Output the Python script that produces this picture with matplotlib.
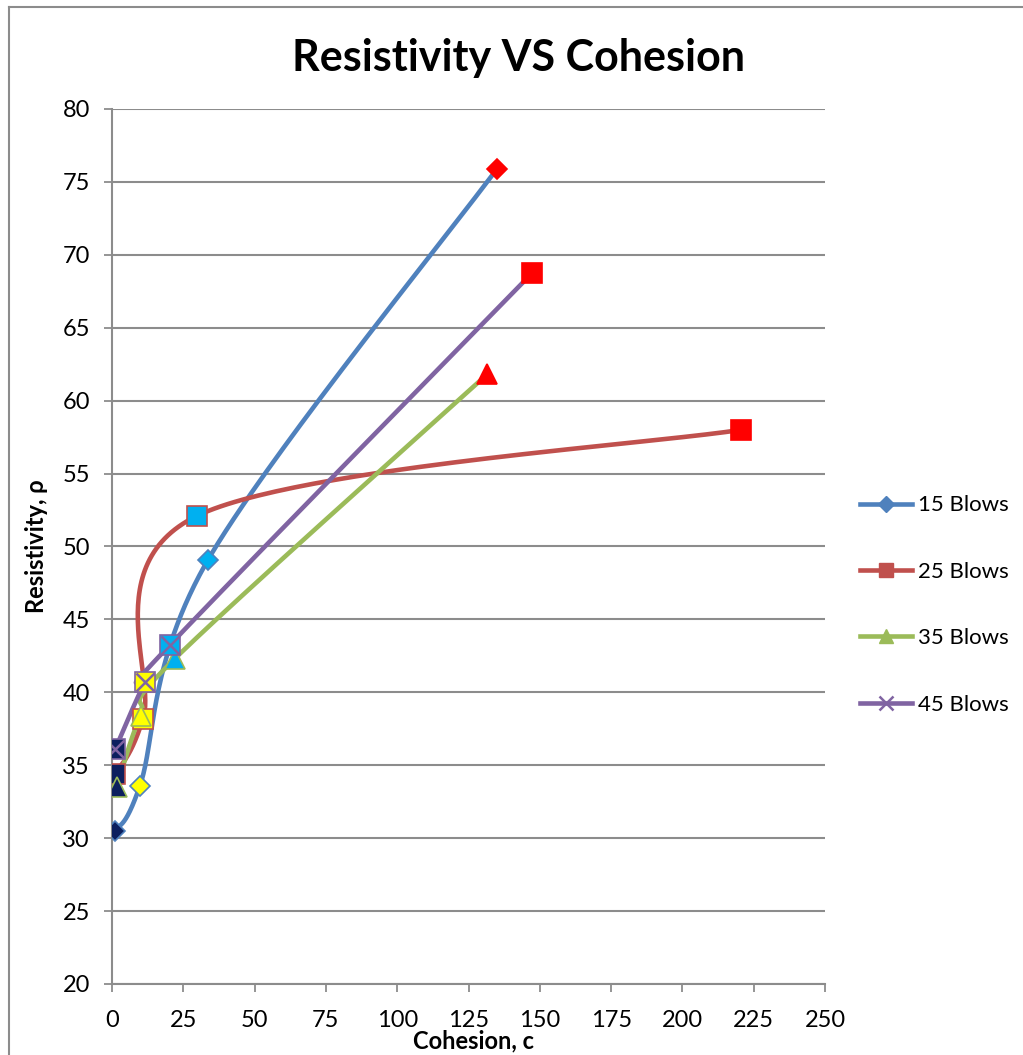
import numpy as np
import matplotlib.pyplot as plt
from matplotlib.lines import Line2D

# data (cohesion c, resistivity rho)
c15 = [1.0, 9.8, 33.7, 135.0]
r15 = [30.5, 33.6, 49.1, 75.9]
c25 = [1.0, 10.9, 29.8, 220.5]
r25 = [34.4, 38.2, 52.1, 58.0]
c35 = [1.6, 10.0, 22.0, 131.5]
r35 = [33.5, 38.4, 42.3, 61.8]
c45 = [1.1, 11.6, 20.3, 147.3]
r45 = [36.1, 40.7, 43.25, 68.75]

labels = ["15 Blows", "25 Blows", "35 Blows", "45 Blows"]
line_colors = ["#4F81BD", "#C0504D", "#9BBB59", "#8064A2"]
point_fills = ["#0C1F5E", "#FFFF00", "#00B0F0", "#FF0000"]

plt.rcParams['font.family'] = ['Lato', 'DejaVu Sans']

fig = plt.figure(figsize=(10.23, 10.55), dpi=100)
ax = fig.add_axes([112/1023, 71/1055, 713/1023, 875/1055])
ax.set_xlim(0, 250)
ax.set_ylim(20, 80)


def smooth(ax, xs, ys, n=60):
    # excel style smoothed line: bezier segments with 1/6 tangents, in pixel space
    pts = ax.transData.transform(np.column_stack([xs, ys]))
    out = []
    for i in range(len(pts) - 1):
        p0 = pts[max(i - 1, 0)]
        p1 = pts[i]
        p2 = pts[i + 1]
        p3 = pts[min(i + 2, len(pts) - 1)]
        b1 = p1 + (p2 - p0) / 6
        b2 = p2 - (p3 - p1) / 6
        t = np.linspace(0, 1, n)[:, None]
        seg = ((1 - t) ** 3 * p1 + 3 * (1 - t) ** 2 * t * b1
               + 3 * (1 - t) * t ** 2 * b2 + t ** 3 * p2)
        out.append(seg)
    out = np.vstack(out)
    return ax.transData.inverted().transform(out).T


series = [(c15, r15, 'D', 10.2), (c25, r25, 's', 14.5),
          (c35, r35, '^', 15), (c45, r45, 's', 14.5)]

for k, (xs, ys, mk, ms) in enumerate(series):
    col = line_colors[k]
    sx, sy = smooth(ax, xs, ys)
    ax.plot(sx, sy, color=col, lw=3.3, solid_capstyle='round', zorder=3)
    for j in range(len(xs)):
        edge = col if j < 3 else "#FF0000"
        ax.plot(xs[j], ys[j], marker=mk, ms=ms, mfc=point_fills[j],
                mec=edge, mew=1.2, ls='none', zorder=4 + k)
        if k == 3 and j < 3:
            ax.plot(xs[j], ys[j], marker='x', ms=13, mec=col, mew=1.8,
                    ls='none', zorder=8)

# gridlines and axes
ax.set_yticks(np.arange(20, 81, 5))
ax.set_xticks(np.arange(0, 251, 25))
ax.yaxis.grid(True, color='#8C8C8C', lw=1.5)
ax.set_axisbelow(True)
for s in ['top', 'right']:
    ax.spines[s].set_visible(False)
for s in ['left', 'bottom']:
    ax.spines[s].set_color('#8C8C8C')
    ax.spines[s].set_linewidth(1.5)
ax.tick_params(axis='both', colors='#8C8C8C', length=6, width=1.3,
               labelsize=17, labelcolor='black')
ax.tick_params(axis='y', pad=10)
ax.tick_params(axis='x', pad=13)

ax.set_xlabel("Cohesion, c", fontsize=17, fontweight='bold', va='center')
ax.xaxis.set_label_coords(0.5077, -57/875)
ax.set_ylabel("Resistivity, ρ", fontsize=17, fontweight='bold', va='center')
ax.yaxis.set_label_coords(-75/713, 0.5)
fig.text(519/1023, 1 - 58/1055, "Resistivity VS Cohesion", fontsize=31,
         fontweight='bold', ha='center', va='center')

# legend
handles = [Line2D([], [], color=line_colors[0], lw=3.3, marker='D', ms=8,
                  mfc=line_colors[0], mec=line_colors[0]),
           Line2D([], [], color=line_colors[1], lw=3.3, marker='s', ms=10,
                  mfc=line_colors[1], mec=line_colors[1]),
           Line2D([], [], color=line_colors[2], lw=3.3, marker='^', ms=10,
                  mfc=line_colors[2], mec=line_colors[2]),
           Line2D([], [], color=line_colors[3], lw=3.3, marker='x', ms=10,
                  mec=line_colors[3], mew=1.8)]
fig.legend(handles, labels, loc='center left', fontsize=16, frameon=False,
           bbox_to_anchor=(851/1023, 1 - 605/1055), borderaxespad=0,
           handlelength=2.34, handletextpad=0.27, labelspacing=2.09)

# chart border
fig.add_artist(Line2D([9/1023, 9/1023], [0, 1 - 7/1055], color='#8C8C8C',
                      lw=1.5, transform=fig.transFigure))
fig.add_artist(Line2D([9/1023, 1], [1 - 7/1055, 1 - 7/1055], color='#8C8C8C',
                      lw=1.5, transform=fig.transFigure))

fig.savefig('out.png', dpi=100)
